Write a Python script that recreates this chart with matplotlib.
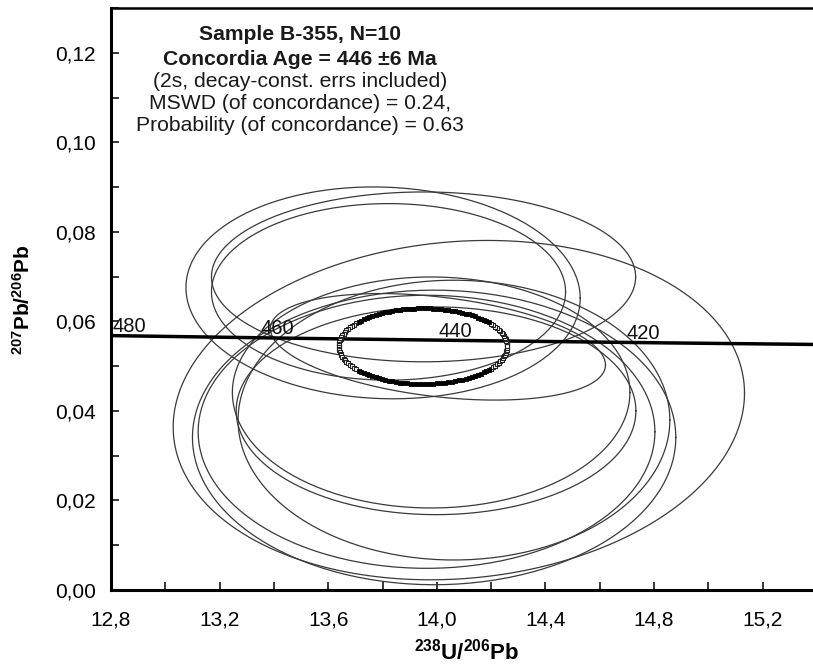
import numpy as np
import matplotlib
matplotlib.use("Agg")
from matplotlib import pyplot as plt

plt.rcParams["font.family"] = ["Liberation Sans", "DejaVu Sans"]
plt.rcParams["mathtext.fontset"] = "custom"
plt.rcParams["mathtext.rm"] = "Liberation Sans"
plt.rcParams["mathtext.bf"] = "Liberation Sans:bold"

# spot analyses: 238U/206Pb, 207Pb/206Pb, 2s half-widths, error correlation
spot_u_pb = [14.081, 13.990, 13.962, 14.063, 13.979, 13.997, 13.802, 13.951, 13.822, 14.004]
spot_pb_pb = [0.04018, 0.03408, 0.03534, 0.03795, 0.04412, 0.04003, 0.06637, 0.06994, 0.06659, 0.05432]
spot_err_x = [1.052, 0.890, 0.841, 0.795, 0.732, 0.736, 0.726, 0.781, 0.652, 0.617]
spot_err_y = [0.0379, 0.0329, 0.0305, 0.03125, 0.0258, 0.0232, 0.02366, 0.01897, 0.01972, 0.0119]
spot_rho = [0.10, 0.0, 0.0, 0.0, 0.0, 0.0, -0.05, 0.0, 0.0, -0.34]

# concordia age ellipse (446 +/- 6 Ma)
age_u_pb = 13.949
age_pb_pb = 0.05446
age_err_x = 0.310
age_err_y = 0.00845

# Tera-Wasserburg concordia points
conc_age = [490, 480, 460, 440, 420, 400]
conc_u_pb = [12.662, 12.936, 13.520, 14.157, 14.854, 15.621]
conc_pb_pb = [0.05696, 0.05670, 0.05619, 0.05569, 0.05519, 0.05470]
label_ages = [480, 460, 440, 420]
label_shift = [-1, -9, -5, -6]

x_ticks = [12.8, 13.2, 13.6, 14.0, 14.4, 14.8, 15.2]
y_ticks = [0.00, 0.02, 0.04, 0.06, 0.08, 0.10, 0.12]

title_lines = [
    ("Sample B-355, N=10", "bold"),
    ("Concordia Age = 446 \u00b16 Ma", "bold"),
    ("(2s, decay-const. errs included)", "normal"),
    ("MSWD (of concordance) = 0.24,", "normal"),
    ("Probability (of concordance) = 0.63", "normal"),
]
title_rows = [0.945, 0.902, 0.864, 0.826, 0.789]


def error_ellipse(cx, cy, sx, sy, rho, n=240):
    t = np.linspace(0, 2 * np.pi, n)
    ex = cx + sx * np.cos(t)
    ey = cy + sy * (rho * np.cos(t) + np.sqrt(1 - rho ** 2) * np.sin(t))
    return t, ex, ey


fig = plt.figure(figsize=(8.13, 6.64), dpi=100)
ax = fig.add_axes([111 / 813, 74 / 664, 706 / 813, 582 / 664])

for cx, cy, sx, sy, rho in zip(spot_u_pb, spot_pb_pb, spot_err_x, spot_err_y, spot_rho):
    t, ex, ey = error_ellipse(cx, cy, sx, sy, rho)
    ax.plot(ex, ey, color="#3a3a3a", lw=0.9)

ax.plot(conc_u_pb, conc_pb_pb, color="black", lw=2.5, zorder=3)
for age, shift in zip(label_ages, label_shift):
    i = conc_age.index(age)
    ax.annotate(str(age), (conc_u_pb[i], conc_pb_pb[i]), xytext=(shift, 3),
                textcoords="offset points", ha="right", va="baseline",
                fontsize=14.5, color="#111111", zorder=4)

# age ellipse drawn as a chain of small squares, solid along top and bottom
t, ex, ey = error_ellipse(age_u_pb, age_pb_pb, age_err_x, age_err_y, 0.0, n=140)
flat = np.abs(np.sin(t)) > 0.62
ax.plot(ex, ey, color="#555555", lw=0.6, zorder=5)
ax.plot(ex[~flat], ey[~flat], ls="none", marker="s", markersize=3.0,
        mfc="white", mec="#222222", mew=0.8, zorder=6)
ax.plot(ex[flat], ey[flat], ls="none", marker="s", markersize=3.4,
        mfc="black", mec="black", mew=0.6, zorder=6)

for (line, weight), row in zip(title_lines, title_rows):
    ax.text(0.268, row, line, transform=ax.transAxes, ha="center", va="baseline",
            fontsize=15.2, fontweight=weight, color="#1a1a1a")

ax.set_xlim(12.8, 15.4)
ax.set_ylim(0, 0.13)
ax.set_xticks(x_ticks)
ax.set_xticklabels([("%.1f" % v).replace(".", ",") for v in x_ticks])
ax.set_xticks(np.arange(12.8, 15.41, 0.2), minor=True)
ax.set_yticks(y_ticks)
ax.set_yticklabels([("%.2f" % v).replace(".", ",") for v in y_ticks])
ax.set_yticks(np.arange(0, 0.1301, 0.01), minor=True)

ax.tick_params(which="both", direction="in", length=6, width=1.1, top=False, right=False)
ax.tick_params(axis="x", which="major", pad=15, labelsize=15)
ax.tick_params(axis="y", which="major", pad=11, labelsize=15)

ax.spines["right"].set_visible(False)
ax.spines["left"].set_linewidth(2.2)
ax.spines["bottom"].set_linewidth(2.2)
ax.spines["top"].set_linewidth(1.8)

ax.set_xlabel(r"$\mathbf{^{238}U/^{206}Pb}$", fontsize=16)
ax.xaxis.set_label_coords(0.504, -0.083)
ax.set_ylabel(r"$\mathbf{^{207}Pb/^{206}Pb}$", fontsize=15)
ax.yaxis.set_label_coords(-0.109, 0.498)

fig.savefig("out.png", dpi=100)
